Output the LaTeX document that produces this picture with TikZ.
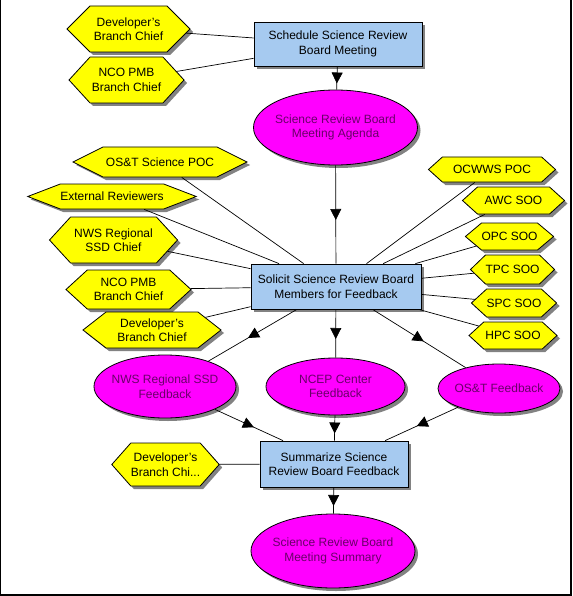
\documentclass[tikz,border=0pt]{standalone}
\usepackage{fontspec}
\setmainfont{Liberation Sans}
\usetikzlibrary{shapes.symbols,shapes.geometric,shadows,decorations.markings,arrows.meta}
\definecolor{boxblue}{RGB}{166,202,240}
\definecolor{hexyellow}{RGB}{255,255,0}
\definecolor{ovalmag}{RGB}{255,0,255}
\definecolor{ovaltext}{RGB}{105,0,105}
\definecolor{shadowgray}{RGB}{130,130,130}
\tikzset{
  base/.style={draw=black, line width=0.8pt, font=\fontsize{12}{14.5}\selectfont, align=center,
     drop shadow={shadow xshift=3pt, shadow yshift=-3pt, fill=shadowgray, opacity=1}},
  taskbox/.style={base, rectangle, fill=boxblue, inner sep=0pt},
  outoval/.style={base, ellipse, fill=ovalmag, text=ovaltext, inner xsep=-15pt, inner ysep=0pt},
  rolehex/.style={base, signal, signal to=west and east, fill=hexyellow, inner xsep=0pt, inner ysep=0pt},
  link/.style={draw=black, line width=0.7pt},
  flow/.style={link, postaction={decorate}, decoration={markings,
     mark=at position 0.5 with {\arrow[xshift=5.5pt]{Triangle[length=11pt,width=11pt]}}}},
}
\begin{document}
\begin{tikzpicture}[x=1pt,y=-1pt]
\useasboundingbox (0,0) rectangle (572,596);
\fill[white] (0,0) rectangle (572,596);
\draw[line width=1.2pt] (0.6,0) -- (0.6,595) -- (571,595) -- (571,0);

% process boxes
\node[taskbox, minimum width=168pt, minimum height=44pt] (sched) at (338,44) {Schedule Science Review\\Board Meeting};
\node[taskbox, minimum width=170pt, minimum height=45pt] (solicit) at (336,286.5) {Solicit Science Review Board\\Members for Feedback};
\node[taskbox, minimum width=148pt, minimum height=46pt] (summ) at (334,464) {Summarize Science\\Review Board Feedback};

% outputs
\node[outoval, minimum width=164pt, minimum height=75pt] (agenda) at (335.5,127.5) {Science Review Board\\Meeting Agenda};
\node[outoval, minimum width=142pt, minimum height=63pt] (nwsfb) at (165,386.5) {NWS Regional SSD\\Feedback};
\node[outoval, minimum width=139pt, minimum height=57pt] (ncepfb) at (335.5,386.5) {NCEP Center\\Feedback};
\node[outoval, minimum width=122pt, minimum height=49pt] (ostfb) at (499,388.5) {OS\&T Feedback};
\node[outoval, minimum width=164pt, minimum height=74pt] (summary) at (333,551) {Science Review Board\\Meeting Summary};

% roles
\node[rolehex, minimum width=123pt, minimum height=46pt, signal pointer angle=90] (devA) at (128.5,29) {Developer's\\Branch Chief};
\node[rolehex, minimum width=115pt, minimum height=46pt, signal pointer angle=95] (ncoA) at (126.5,80) {NCO PMB\\Branch Chief};
\node[rolehex, minimum width=174pt, minimum height=30pt, signal pointer angle=53] (ostpoc) at (160,162) {OS\&T Science POC};
\node[rolehex, minimum width=166pt, minimum height=25pt, signal pointer angle=42] (extrev) at (112,196.5) {External Reviewers};
\node[rolehex, minimum width=128pt, minimum height=46pt, signal pointer angle=95] (nwschief) at (113.5,240) {NWS Regional\\SSD Chief};
\node[rolehex, minimum width=125pt, minimum height=39pt, signal pointer angle=85] (ncoB) at (128.5,289.5) {NCO PMB\\Branch Chief};
\node[rolehex, minimum width=138pt, minimum height=36pt, signal pointer angle=76] (devB) at (152,330) {Developer's\\Branch Chief};
\node[rolehex, minimum width=106pt, minimum height=43pt, signal pointer angle=97] (devC) at (165.5,464.5) {Developer's\\Branch Chi...};
\node[rolehex, minimum width=127pt, minimum height=25pt, signal pointer angle=84] (ocwws) at (492,169.5) {OCWWS POC};
\node[rolehex, minimum width=102pt, minimum height=27pt, signal pointer angle=84] (awc) at (513.5,200.5) {AWC SOO};
\node[rolehex, minimum width=85pt, minimum height=27pt, signal pointer angle=80] (opc) at (509.5,236.5) {OPC SOO};
\node[rolehex, minimum width=81pt, minimum height=29pt, signal pointer angle=88] (tpc) at (512.5,269.5) {TPC SOO};
\node[rolehex, minimum width=82pt, minimum height=28pt, signal pointer angle=85] (spc) at (514,303) {SPC SOO};
\node[rolehex, minimum width=88pt, minimum height=27pt, signal pointer angle=85] (hpc) at (513,335.5) {HPC SOO};

% connectors
\draw[link] (devA) -- (sched);
\draw[link] (ncoA) -- (sched);
\draw[flow] (sched) -- (agenda);
\draw[flow] (agenda) -- (solicit);
\foreach \r in {ostpoc,extrev,nwschief,ncoB,devB,ocwws,awc,opc,tpc,spc,hpc}
  \draw[link] (\r) -- (solicit);
\draw[flow] (solicit) -- (nwsfb);
\draw[flow] (solicit) -- (ncepfb);
\draw[flow] (solicit) -- (ostfb);
\draw[flow] (nwsfb) -- (summ);
\draw[flow] (ncepfb) -- (summ);
\draw[flow] (ostfb) -- (summ);
\draw[link] (devC) -- (summ);
\draw[flow] (summ) -- (summary);
\end{tikzpicture}
\end{document}
